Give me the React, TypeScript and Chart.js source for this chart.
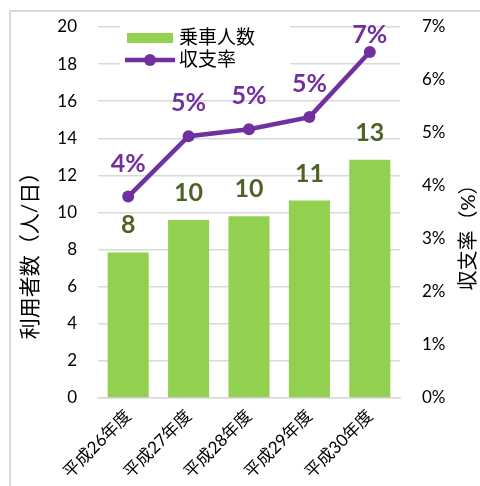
import React, { useEffect, useRef } from "react";
import { Chart, registerables } from "chart.js";

Chart.register(...registerables);

const categories = ["平成26年度", "平成27年度", "平成28年度", "平成29年度", "平成30年度"];
const riders = [7.85, 9.6, 9.8, 10.65, 12.85];
const ratio = [3.8, 4.94, 5.07, 5.3, 6.53];
const leftTicks = { min: 0, max: 20, step: 2 };
const rightTicks = { min: 0, max: 7, step: 1 };
const leftTitle = "利用者数（人/日）";
const rightTitle = "収支率（%）";
const riderLabel = "乗車人数";
const ratioLabel = "収支率";

const FONT = 'Lato, "Noto Sans CJK JP", sans-serif';
const GREEN = "#92D050";
const PURPLE = "#7030A0";
const OLIVE = "#4F6228";
const GRID = "#d9d9d9";

const framePlugin = {
  id: "frame",
  beforeDraw(chart: any) {
    const ctx = chart.ctx;
    ctx.save();
    ctx.fillStyle = "#ffffff";
    ctx.fillRect(0, 0, chart.width, chart.height);
    ctx.strokeStyle = "#d9d9d9";
    ctx.lineWidth = 2;
    ctx.strokeRect(10, 11, chart.width + 20, chart.height + 20);
    ctx.restore();
  },
};

const extrasPlugin = {
  id: "extras",
  afterDatasetsDraw(chart: any) {
    const ctx = chart.ctx;
    const area = chart.chartArea;
    ctx.save();
    // data labels
    const barMeta = chart.getDatasetMeta(1);
    const lineMeta = chart.getDatasetMeta(0);
    ctx.textAlign = "center";
    ctx.textBaseline = "middle";
    ctx.font = `bold 25px ${FONT}`;
    ctx.fillStyle = OLIVE;
    barMeta.data.forEach((el: any, i: number) => {
      ctx.fillText(String(Math.round(riders[i])), el.x, el.y - 27);
    });
    ctx.fillStyle = PURPLE;
    lineMeta.data.forEach((el: any, i: number) => {
      const y = Math.max(el.y - 33, area.top + 8);
      ctx.fillText(Math.round(ratio[i]) + "%", el.x, y);
    });

    // legend
    const lx = area.left + 22;
    const ly = area.top - 5;
    ctx.fillStyle = "#ffffff";
    ctx.fillRect(lx, ly, 170, 48);
    ctx.fillStyle = GREEN;
    ctx.fillRect(area.left + 29, area.top + 6, 46, 10);
    ctx.strokeStyle = PURPLE;
    ctx.lineWidth = 4.5;
    ctx.beginPath();
    ctx.moveTo(area.left + 27, area.top + 33);
    ctx.lineTo(area.left + 77, area.top + 33);
    ctx.stroke();
    ctx.fillStyle = PURPLE;
    ctx.beginPath();
    ctx.arc(area.left + 52, area.top + 33, 6, 0, Math.PI * 2);
    ctx.fill();
    ctx.fillStyle = "#000000";
    ctx.textAlign = "left";
    ctx.font = `19px ${FONT}`;
    ctx.fillText(riderLabel, area.left + 81, area.top + 11);
    ctx.fillText(ratioLabel, area.left + 81, area.top + 33);

    // axis titles
    const cy = (area.top + area.bottom) / 2;
    ctx.textAlign = "center";
    ctx.font = `21px ${FONT}`;
    ctx.save();
    ctx.translate(area.left - 68, cy + 38);
    ctx.rotate(-Math.PI / 2);
    ctx.fillText(leftTitle, 0, 0);
    ctx.restore();
    ctx.save();
    ctx.font = `20px ${FONT}`;
    ctx.translate(area.right + 69, cy + 20);
    ctx.rotate(-Math.PI / 2);
    ctx.fillText(rightTitle, 0, 0);
    ctx.restore();
    ctx.restore();
  },
};

export default function App() {
  const ref = useRef<HTMLCanvasElement>(null);
  useEffect(() => {
    document.body.style.margin = "0";
    const canvas = ref.current!;
    const chart = new Chart(canvas, {
      type: "bar",
      data: {
        labels: categories,
        datasets: [
          {
            type: "line",
            label: ratioLabel,
            data: ratio,
            yAxisID: "y1",
            borderColor: PURPLE,
            backgroundColor: PURPLE,
            borderWidth: 4.5,
            pointRadius: 6,
            pointBackgroundColor: PURPLE,
            pointBorderWidth: 0,
            tension: 0,
            order: 0,
          } as any,
          {
            type: "bar",
            label: riderLabel,
            data: riders,
            yAxisID: "y",
            backgroundColor: GREEN,
            barPercentage: 0.68,
            categoryPercentage: 1,
            order: 1,
          },
        ],
      },
      options: {
        responsive: false,
        animation: false,
        layout: { padding: { top: 27, left: 0, right: 0, bottom: 0 } },
        plugins: { legend: { display: false }, tooltip: { enabled: false } },
        scales: {
          x: {
            grid: { display: false, drawTicks: false },
            border: { display: true, color: GRID, width: 1.5 },
            ticks: {
              color: "#000",
              font: { family: FONT, size: 17 },
              minRotation: 45,
              maxRotation: 45,
              padding: 8,
            },
            afterFit: (s: any) => {
              s.height = 88;
            },
          },
          y: {
            position: "left",
            min: leftTicks.min,
            max: leftTicks.max,
            grid: { color: GRID, lineWidth: 1.5, drawTicks: false },
            border: { display: false },
            ticks: {
              stepSize: leftTicks.step,
              color: "#000",
              font: { family: FONT, size: 17 },
              padding: 21,
            },
            afterFit: (s: any) => {
              s.width = 98;
              s.paddingTop = 10;
              s.paddingBottom = 10;
            },
          },
          y1: {
            position: "right",
            min: rightTicks.min,
            max: rightTicks.max,
            grid: { display: false, drawTicks: false },
            border: { display: false },
            ticks: {
              stepSize: rightTicks.step,
              color: "#000",
              font: { family: FONT, size: 17 },
              padding: 22,
              callback: (v: any) => Math.round(Number(v)) + "%",
            },
            afterFit: (s: any) => {
              s.width = 80;
              s.paddingTop = 10;
              s.paddingBottom = 10;
            },
          },
        },
      },
      plugins: [framePlugin, extrasPlugin],
    });
    return () => chart.destroy();
  }, []);
  return (
    <div style={{ width: 480, height: 486 }}>
      <canvas ref={ref} width={480} height={486} />
    </div>
  );
}
